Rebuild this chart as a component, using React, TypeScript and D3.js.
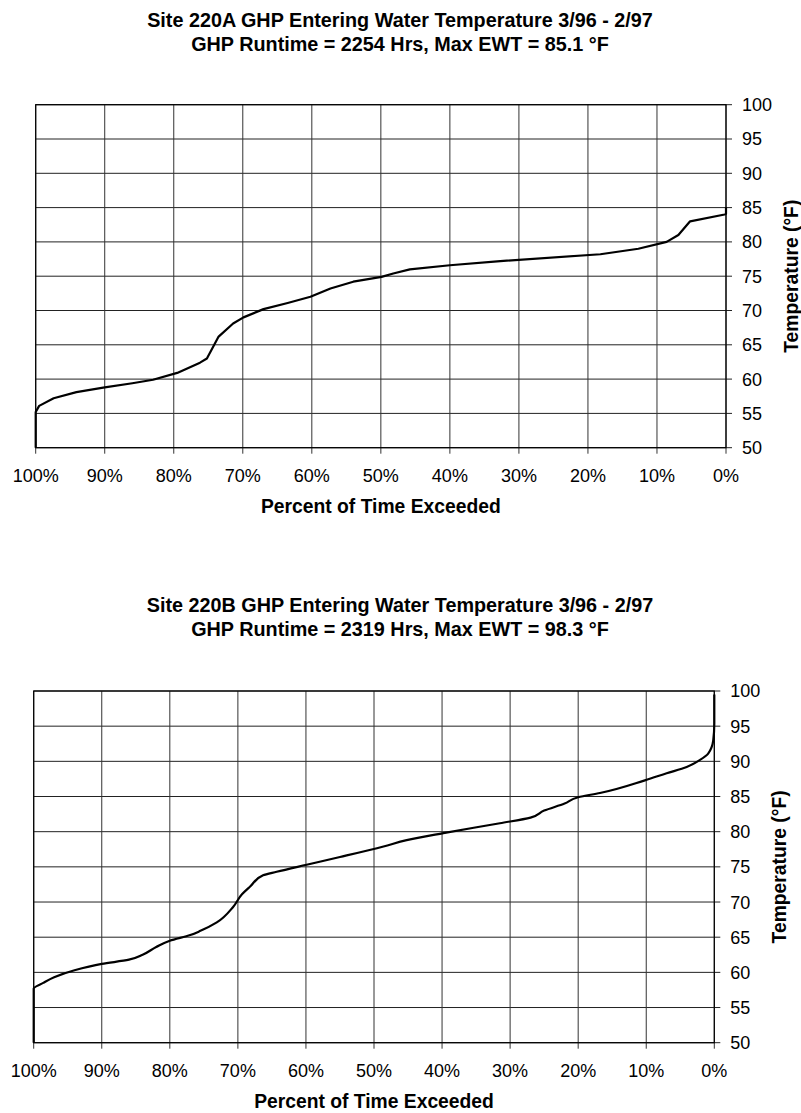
import React from 'react';
import * as d3 from 'd3';

// Site 220A: percent of time exceeded vs. entering water temperature
const pct220A = [100, 100, 99.5, 97.4, 94.1, 90, 86, 83, 79.5, 76.2, 75.2, 73.5, 71.4, 69.9, 67.0, 63.5, 60.2, 57.3, 54.0, 49.9, 48.2, 45.8, 40.0, 32.7, 18.2, 12.7, 8.6, 6.9, 5.2, 0.2, 0, 0];
const temp220A = [50, 55.2, 56.1, 57.2, 58.1, 58.8, 59.4, 59.9, 60.9, 62.4, 63.0, 66.2, 68.1, 69.0, 70.2, 71.1, 72.0, 73.2, 74.2, 74.9, 75.4, 76.0, 76.6, 77.2, 78.2, 79.0, 80.0, 81.0, 83.0, 84.0, 84.1, 85.1];

// Site 220B
const pct220B = [100, 100, 98.6, 97, 94, 90, 86, 84, 82, 80, 77, 75.5, 73.1, 70.7, 69.4, 68.2, 66.3, 64.3, 59.9, 55.0, 48.6, 45.2, 39.8, 31.5, 27, 25, 22, 20, 16.8, 10.2, 7.0, 4.06, 2.1, 0.9, 0.15, 0, 0];
const temp220B = [50, 57.7, 58.5, 59.3, 60.3, 61.2, 61.8, 62.5, 63.6, 64.5, 65.3, 65.9, 67.1, 69.3, 71.1, 72.2, 73.8, 74.3, 75.3, 76.4, 77.9, 78.8, 79.8, 81.2, 82.0, 83.0, 84.0, 84.9, 85.5, 87.3, 88.3, 89.2, 90.2, 91.1, 93.0, 95.4, 99.5];

const xTicks = [100, 90, 80, 70, 60, 50, 40, 30, 20, 10, 0];
const yTicks = [50, 55, 60, 65, 70, 75, 80, 85, 90, 95, 100];

const FONT = '"Liberation Sans", Arial, sans-serif';

interface ChartProps {
  title1: string;
  title2: string;
  pct: number[];
  temp: number[];
  left: number;
  right: number;
  top: number;
  bottom: number;
  titleY: number;
  smooth: boolean;
}

const Chart: React.FC<ChartProps> = ({ title1, title2, pct, temp, left, right, top, bottom, titleY, smooth }) => {
  const x = d3.scaleLinear().domain([100, 0]).range([left, right]);
  const y = d3.scaleLinear().domain([50, 100]).range([bottom, top]);

  const pts: [number, number][] = pct.map((p, i) => [p, temp[i]]);
  const line = d3.line<[number, number]>()
    .x(d => x(d[0]))
    .y(d => y(d[1]))
    .curve(smooth ? d3.curveMonotoneY : d3.curveLinear);

  const cx = (left + right) / 2;

  return (
    <g fontFamily={FONT}>
      <text x={400} y={titleY} textAnchor="middle" fontSize={19.8} fontWeight="bold">{title1}</text>
      <text x={400} y={titleY + 24} textAnchor="middle" fontSize={19.8} fontWeight="bold">{title2}</text>

      {/* grid */}
      {yTicks.map(t => (
        <line key={'h' + t} x1={left} x2={right + 6} y1={y(t)} y2={y(t)} stroke="#222" strokeWidth={1} />
      ))}
      {xTicks.map(t => (
        <line key={'v' + t} x1={x(t)} x2={x(t)} y1={top} y2={bottom + 6} stroke="#333" strokeWidth={1} />
      ))}
      <rect x={left} y={top} width={right - left} height={bottom - top} fill="none" stroke="#000" strokeWidth={1.2} />

      {/* tick labels */}
      {yTicks.map(t => (
        <text key={'yl' + t} x={right + 16} y={y(t)} dy="0.36em" fontSize={18}>{t}</text>
      ))}
      {xTicks.map(t => (
        <text key={'xl' + t} x={x(t)} y={bottom + 34} textAnchor="middle" fontSize={18}>{t + '%'}</text>
      ))}

      <text x={cx} y={bottom + 65} textAnchor="middle" fontSize={19.3} fontWeight="bold">Percent of Time Exceeded</text>
      <text transform={`translate(${right + 72},${(top + bottom) / 2}) rotate(-90)`} textAnchor="middle" fontSize={19.3} fontWeight="bold">Temperature (°F)</text>

      <path d={line(pts) || ''} fill="none" stroke="#000" strokeWidth={2.2} strokeLinejoin="round" />
    </g>
  );
};

export default function App() {
  return (
    <svg width={801} height={1113} style={{ position: 'absolute', left: 0, top: 0, background: '#fff' }}>
      <rect width={801} height={1113} fill="#fff" />
      <Chart
        title1="Site 220A GHP Entering Water Temperature 3/96 - 2/97"
        title2="GHP Runtime = 2254 Hrs, Max EWT = 85.1 °F"
        pct={pct220A}
        temp={temp220A}
        left={35.7}
        right={726}
        top={104.7}
        bottom={447.7}
        titleY={27}
        smooth={false}
      />
      <Chart
        title1="Site 220B GHP Entering Water Temperature 3/96 - 2/97"
        title2="GHP Runtime = 2319 Hrs, Max EWT = 98.3 °F"
        pct={pct220B}
        temp={temp220B}
        left={33.7}
        right={714.3}
        top={691}
        bottom={1042.7}
        titleY={612}
        smooth={true}
      />
    </svg>
  );
}
